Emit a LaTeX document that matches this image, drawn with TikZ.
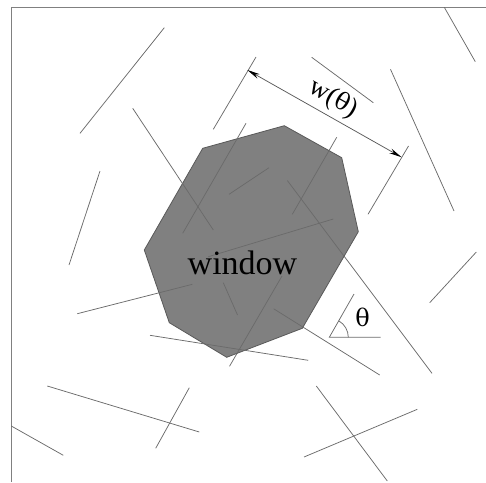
\documentclass[tikz,border=0pt]{standalone}
\usepackage{fontspec}
\setmainfont{Liberation Serif}
\newfontfamily\grk{DejaVu Serif}
\usetikzlibrary{arrows.meta}
\begin{document}
\begin{tikzpicture}[x=1pt,y=-1pt,
  seg/.style={draw=black!58,line width=0.75pt},
  framestyle/.style={draw=black!50,line width=1.3pt},
  winstyle/.style={fill=black!50,draw=black!65,line width=0.8pt},
  dimarrow/.style={draw=black!65,line width=0.75pt,{Stealth[length=13pt,width=5pt,black]}-{Stealth[length=13pt,width=5pt,black]}}]
\useasboundingbox (0,0) rectangle (486,482);
% frame
\draw[framestyle] (486,7.3) -- (11.3,7.3) -- (11.3,482);
% window polygon
\path[winstyle] (202.7,148.3) -- (284.3,125.7) -- (341.7,157.7) -- (358.3,231.7)
  -- (302.3,328.3) -- (226.7,357.3) -- (169.3,322.7) -- (144.3,250) -- cycle;
% random segments
\draw[seg] (164.3,27.7) -- (80,133.3);
\draw[seg] (132.7,108.3) -- (213.3,230);
\draw[seg] (100,171) -- (69,265);
\draw[seg] (256,57) -- (213.3,129.3);
\draw[seg] (246,123.3) -- (182.7,233.3);
\draw[seg] (229,194.3) -- (269,167.7);
\draw[seg] (311.7,57.3) -- (373.3,102.7);
\draw[seg] (444.3,7.3) -- (475.3,61.7);
\draw[seg] (390.5,69.3) -- (454,211);
\draw[seg] (408.5,146) -- (368,214.3);
\draw[seg] (336.7,137.3) -- (292.3,214.3);
\draw[seg] (287.3,180.5) -- (432,373.3);
\draw[seg] (333.3,219) -- (208.3,256.7);
\draw[seg] (77.3,313.7) -- (192.3,284.3);
\draw[seg] (223.3,282.7) -- (237.5,315);
\draw[seg] (150,335.3) -- (308.2,360.3);
\draw[seg] (282,276) -- (229.5,366.3);
\draw[seg] (47.3,386) -- (199.3,432);
\draw[seg] (189.3,387.7) -- (155.7,448.3);
\draw[seg] (11.3,426) -- (63.3,455.3);
\draw[seg] (273.7,308.8) -- (379.7,375);
\draw[seg] (476.3,252) -- (429.7,302.7);
\draw[seg] (316.3,386) -- (387.3,481);
\draw[seg] (304,457) -- (417.3,409.3);
% width arrow
\coordinate (wa) at (247.3,70);
\coordinate (wb) at (401.7,157.3);
\draw[dimarrow] (wa) -- (wb);
\node[rotate=-29.5,font=\fontsize{27}{27}\selectfont,inner sep=0pt] (wlabel) at (333,99) {w({\grk\fontsize{24}{24}\selectfont θ})};
% angle
\coordinate (tv) at (329.3,337.3);
\coordinate (th) at (380.7,337.3);
\coordinate (tr) at (354,294);
\draw[seg] (th) -- (tv) -- (tr);
\draw[seg] (tv) ++(19,0) arc[start angle=0,end angle=-60.3,radius=19];
\node[font=\grk\fontsize{24}{24}\selectfont,inner sep=0pt] (tlabel) at (362.7,317.7) {θ};
% window label
\node[font=\fontsize{34}{34}\selectfont,inner sep=0pt,anchor=base] (wintext) at (242.5,274.3) {window};
\end{tikzpicture}
\end{document}
